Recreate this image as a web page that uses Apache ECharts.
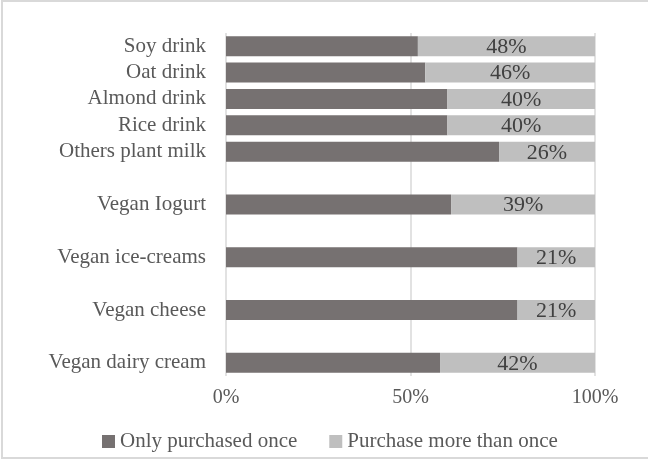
<!DOCTYPE html>
<html>
<head>
<meta charset="utf-8">
<script src="https://cdn.jsdelivr.net/npm/echarts@6/dist/echarts.min.js"></script>
<style>
  html, body { margin: 0; padding: 0; background: #fff; }
  #chart { width: 648px; height: 463px; }
</style>
</head>
<body>
<div id="chart"></div>
<script>
// Product rows, top to bottom; empty strings are spacer rows between groups
const categories = ['Soy drink', 'Oat drink', 'Almond drink', 'Rice drink', 'Others plant milk', '',
  'Vegan Iogurt', '', 'Vegan ice-creams', '', 'Vegan cheese', '', 'Vegan dairy cream'];
// Share of buyers (%) per row
const onlyPurchasedOnce = [52, 54, 60, 60, 74, null, 61, null, 79, null, 79, null, 58];
const purchaseMoreThanOnce = [48, 46, 40, 40, 26, null, 39, null, 21, null, 21, null, 42];
const seriesNames = ['Only purchased once', 'Purchase more than once'];
const xTicks = { min: 0, max: 100, interval: 50 };

const FONT = '"Liberation Serif", "Times New Roman", serif';
const chart = echarts.init(document.getElementById('chart'), null, { renderer: 'canvas' });

chart.setOption({
  backgroundColor: '#ffffff',
  animation: false,
  graphic: [{
    type: 'rect',
    shape: { x: 2, y: 1, width: 660, height: 457 },
    style: { fill: 'none', stroke: '#d9d9d9', lineWidth: 2 },
    silent: true
  }],
  grid: { left: 226, right: 53, top: 33, bottom: 87, containLabel: false },
  legend: {
    left: 97,
    top: 426,
    itemWidth: 13,
    itemHeight: 13,
    itemGap: 32,
    icon: 'rect',
    textStyle: { fontFamily: FONT, fontSize: 21, color: '#595959' },
    data: seriesNames
  },
  xAxis: {
    type: 'value',
    min: xTicks.min,
    max: xTicks.max,
    interval: xTicks.interval,
    axisLine: { show: false },
    axisTick: { show: false },
    splitLine: { show: true, lineStyle: { color: '#d9d9d9', width: 1.5 } },
    axisLabel: {
      formatter: '{value}%',
      fontFamily: FONT, fontSize: 20, color: '#595959', margin: 12
    }
  },
  yAxis: {
    type: 'category',
    inverse: true,
    data: categories,
    axisLine: { show: false },
    axisTick: { show: false },
    splitLine: { show: false },
    axisLabel: { fontFamily: FONT, fontSize: 21, color: '#595959', margin: 20, interval: 0 }
  },
  series: [
    {
      name: seriesNames[0],
      type: 'bar',
      stack: 'total',
      barWidth: 20,
      itemStyle: { color: '#767171' },
      data: onlyPurchasedOnce
    },
    {
      name: seriesNames[1],
      type: 'bar',
      stack: 'total',
      barWidth: 20,
      itemStyle: { color: '#bfbfbf' },
      label: {
        show: true,
        position: 'inside',
        formatter: '{c}%',
        fontFamily: FONT,
        fontSize: 22,
        color: '#404040',
        offset: [0, 1]
      },
      data: purchaseMoreThanOnce
    }
  ]
});
</script>
</body>
</html>
